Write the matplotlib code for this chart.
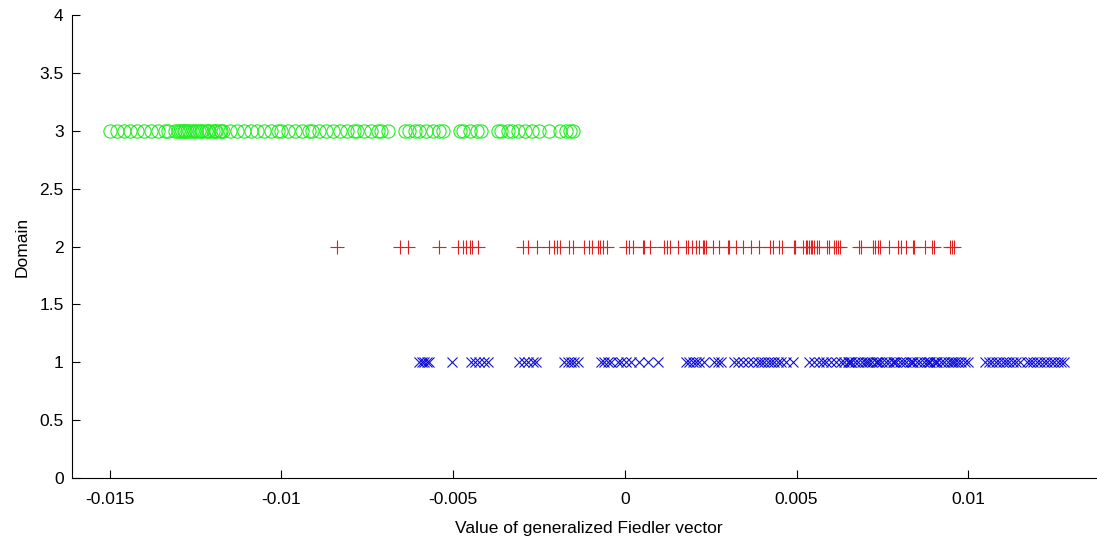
import numpy as np
import matplotlib.pyplot as plt

plt.rcParams['font.family'] = ['Liberation Sans', 'DejaVu Sans']

# domain 3 (green circles)
fiedler_d3 = [-0.0150, -0.0148, -0.0146, -0.0144, -0.0142, -0.0140, -0.0138, -0.0136,
              -0.0134, -0.0133, -0.0131,
              -0.0130, -0.01295, -0.0129, -0.01285, -0.0128, -0.01275, -0.0127, -0.0126,
              -0.01255, -0.0125, -0.0124, -0.01235, -0.0123, -0.0122, -0.01215, -0.0121,
              -0.0120, -0.01195, -0.0119, -0.0118, -0.01175, -0.0117,
              -0.0115, -0.0113, -0.0111, -0.0109, -0.0107, -0.0105, -0.0103, -0.0101,
              -0.0100, -0.0098, -0.0096, -0.0094, -0.0092, -0.0091, -0.0089, -0.0087,
              -0.0085, -0.0083, -0.0081, -0.0079, -0.0078, -0.0076, -0.0074, -0.0072,
              -0.0071, -0.0069,
              -0.0064, -0.0063, -0.0061, -0.0060, -0.0058, -0.0056, -0.0054, -0.0053,
              -0.0048, -0.0047, -0.0045, -0.0043, -0.0042,
              -0.0037, -0.0036, -0.0034, -0.0033, -0.0031, -0.0029, -0.0027, -0.0025,
              -0.0022, -0.0019, -0.0017, -0.0016, -0.0015]

# domain 2 (red plus)
fiedler_d2 = [-0.00839, -0.00655, -0.00632, -0.00542,
              -0.00486, -0.00472, -0.00463, -0.00451, -0.00446, -0.00428,
              -0.00297, -0.00282, -0.00256, -0.00221, -0.00207, -0.00198, -0.00189, -0.00163,
              -0.00151, -0.00119, -0.00105, -0.00096, -0.00079, -0.00073, -0.00064, -0.00052,
              0.00003, 0.00012, 0.00023, 0.00052, 0.00055, 0.00073, 0.00114, 0.00122,
              0.00131, 0.00154, 0.00178, 0.00183, 0.00195, 0.00207, 0.00216, 0.00227,
              0.0023, 0.00236, 0.00256, 0.00274, 0.0030, 0.00303, 0.00323, 0.00344,
              0.00367, 0.0039, 0.00422, 0.00431, 0.00449, 0.00457, 0.00492, 0.00495,
              0.00518, 0.0053, 0.00536, 0.00542, 0.0056,
              0.00527, 0.00545, 0.0055, 0.00565, 0.00588, 0.00594, 0.00609, 0.00614,
              0.0062, 0.00626,
              0.00681, 0.00687, 0.00722, 0.00728, 0.00737, 0.00743, 0.00769, 0.00795,
              0.00804, 0.00818, 0.00839, 0.00842, 0.00874, 0.00894, 0.0090, 0.00946,
              0.00952, 0.00958]

# domain 1 (blue x)
fiedler_d1 = [-0.0060, -0.00591, -0.00585, -0.00577, -0.00571, -0.00504, -0.00448,
              -0.00437, -0.00425, -0.0041, -0.00399, -0.00309, -0.00294, -0.00283,
              -0.00268, -0.00259, -0.00178, -0.00166, -0.00157, -0.00149, -0.00137,
              -0.0007, -0.00061, -0.0005, -0.00041, -0.0002, -0.00012, 0.00003, 0.00017,
              0.0004, 0.00067, 0.00096,
              0.00178, 0.00186, 0.00198, 0.00207, 0.00216, 0.0023, 0.00259, 0.00271, 0.0028,
              0.00317, 0.00329, 0.00344, 0.00358, 0.00373, 0.00387, 0.00396, 0.00405,
              0.00416, 0.00425, 0.00434, 0.00446, 0.00454, 0.00469, 0.00489,
              0.00536, 0.0055, 0.00565, 0.00577, 0.00585, 0.0060, 0.00614, 0.00629,
              0.00638, 0.00649, 0.00652, 0.00658,
              0.0066, 0.0067, 0.0068, 0.0069, 0.0070, 0.00705, 0.0071, 0.0072, 0.0073,
              0.00735, 0.0074, 0.0075, 0.0076, 0.0077, 0.0078, 0.00785, 0.0079, 0.0080,
              0.0081, 0.0082, 0.0083, 0.00835, 0.0084, 0.0085, 0.0086, 0.0087, 0.0088,
              0.00885, 0.0089, 0.0090, 0.00905, 0.0091, 0.0092, 0.0093, 0.0094, 0.0095,
              0.00955, 0.0096, 0.0097, 0.0098, 0.0099, 0.0100,
              0.0105, 0.0106, 0.0107, 0.0108, 0.0109, 0.0110, 0.0111, 0.0112, 0.0113,
              0.0114, 0.0115,
              0.0117, 0.0118, 0.0119, 0.0120, 0.0121, 0.0122, 0.0123, 0.0124, 0.0125,
              0.0126, 0.0127, 0.0128]

xticks = [-0.015, -0.01, -0.005, 0, 0.005, 0.01]
xtick_labels = ['-0.015', '-0.01', '-0.005', '0', '0.005', '0.01']
yticks = [0, 0.5, 1, 1.5, 2, 2.5, 3, 3.5, 4]
ytick_labels = ['0', '0.5', '1', '1.5', '2', '2.5', '3', '3.5', '4']

fig = plt.figure(figsize=(10.97, 5.44), dpi=100)
ax = fig.add_axes([72/1097, 0.1213, 0.9422, 0.8511])

ax.plot(fiedler_d3, np.full(len(fiedler_d3), 3), 'o', color='#22ee22', mfc='none', ms=9.5, mew=0.8)
ax.plot(fiedler_d2, np.full(len(fiedler_d2), 2), '+', color='#dd2020', ms=10, mew=0.8)
ax.plot(fiedler_d1, np.full(len(fiedler_d1), 1), 'x', color='#1010dd', ms=6.5, mew=0.8)

ax.set_xlim(-0.0161, 0.014)
ax.set_ylim(0, 4)
ax.set_xticks(xticks)
ax.set_xticklabels(xtick_labels)
ax.set_yticks(yticks)
ax.set_yticklabels(ytick_labels)
ax.spines['top'].set_visible(False)
ax.spines['right'].set_visible(False)
ax.tick_params(direction='in', labelsize=12.5, length=6)
ax.tick_params(axis='x', pad=10)
ax.tick_params(axis='y', pad=6)
ax.set_xlabel('Value of generalized Fiedler vector', fontsize=12.5, labelpad=10)
ax.set_ylabel('Domain', fontsize=12.5, labelpad=7)

fig.savefig('out.png', dpi=100)
